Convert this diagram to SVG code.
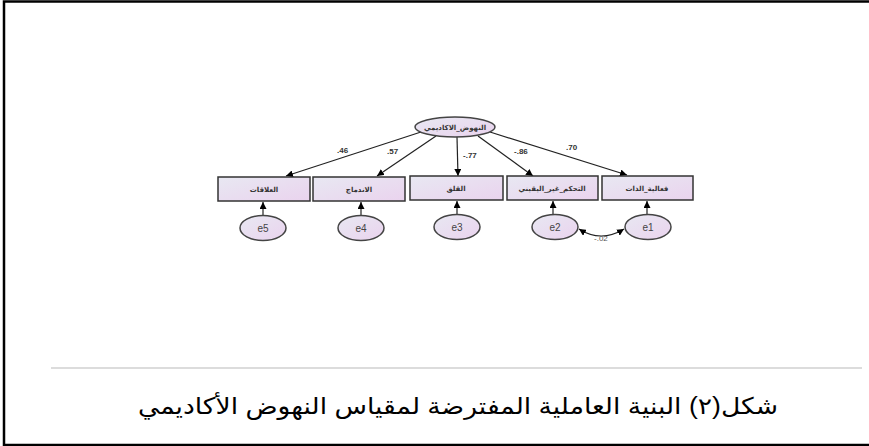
<svg xmlns="http://www.w3.org/2000/svg" width="869" height="446" viewBox="0 0 869 446">
<style>
.frame{stroke:#000;stroke-width:2.5;fill:none}
.sep{stroke:#d0d0d0;stroke-width:1.5}
.box{fill:url(#g);stroke:#333;stroke-width:1.5}
.ell{fill:url(#g);stroke:#444;stroke-width:1.5}
.ar{stroke:#222;stroke-width:1.2;fill:none;marker-end:url(#ah)}
.lbl{font-family:"Liberation Sans","DejaVu Sans",sans-serif;font-size:8px;font-weight:bold;fill:#333}
.ar-t{font-family:"DejaVu Sans","Noto Sans",sans-serif;font-size:7px;font-weight:bold;fill:#333;text-anchor:middle}
.et{font-family:"Liberation Sans",sans-serif;font-size:10px;fill:#444;text-anchor:middle}
.cap{font-family:"Liberation Sans","DejaVu Sans","Noto Sans",sans-serif;font-size:23px;fill:#000;text-anchor:middle}
</style>
<defs>
<linearGradient id="g" x1="0" y1="0" x2="1" y2="1">
<stop offset="0" stop-color="#e8e8f2"/>
<stop offset="1" stop-color="#ead3ee"/>
</linearGradient>
<marker id="ah" viewBox="0 0 10 10" refX="10" refY="5" markerWidth="7" markerHeight="7" orient="auto" markerUnits="userSpaceOnUse">
<path d="M0,0 L10,5 L0,10 z" fill="#000"/>
</marker>
<marker id="ahs" viewBox="0 0 10 10" refX="10" refY="5" markerWidth="7" markerHeight="7" orient="auto-start-reverse" markerUnits="userSpaceOnUse">
<path d="M0,0 L10,5 L0,10 z" fill="#000"/>
</marker>
</defs>
<g id="frame">
<path class="frame" d="M4,446 V1.5 H869"/>
<line class="frame" x1="4" y1="445" x2="869" y2="445"/>
<line class="sep" x1="51" y1="368" x2="862" y2="368"/>
</g>
<g id="connectors">
<line class="ar" x1="421" y1="132" x2="286" y2="176"/>
<line class="ar" x1="436" y1="136" x2="377" y2="176"/>
<line class="ar" x1="457" y1="137" x2="458" y2="176"/>
<line class="ar" x1="478" y1="136" x2="533" y2="176"/>
<line class="ar" x1="490" y1="132" x2="627" y2="175"/>
<line class="ar" x1="263" y1="216" x2="263" y2="202"/>
<line class="ar" x1="361" y1="216" x2="361" y2="202"/>
<line class="ar" x1="457" y1="215" x2="457" y2="201"/>
<line class="ar" x1="553" y1="215" x2="553" y2="201"/>
<line class="ar" x1="647" y1="215" x2="647" y2="201"/>
<path d="M579,229 Q601,243 624,229" stroke="#222" stroke-width="1.2" fill="none" marker-start="url(#ahs)" marker-end="url(#ahs)"/>
<text class="lbl" x="337" y="153">.46</text>
<text class="lbl" x="387" y="154">.57</text>
<text class="lbl" x="463" y="158">-.77</text>
<text class="lbl" x="514" y="154">-.86</text>
<text class="lbl" x="566" y="150">.70</text>
<text class="lbl" x="594" y="241" style="font-weight:normal;fill:#555">-.02</text>
</g>
<g id="latent">
<ellipse class="ell" cx="455" cy="127" rx="40" ry="10"/>
<text class="ar-t" x="455" y="130">النهوض_الاكاديمي</text>
</g>
<g id="box1"><rect class="box" x="218" y="177" width="92" height="24"/><text class="ar-t" x="264" y="192">العلاقات</text></g>
<g id="box2"><rect class="box" x="313" y="177" width="92" height="24"/><text class="ar-t" x="359" y="192">الاندماج</text></g>
<g id="box3"><rect class="box" x="410" y="176" width="93" height="24"/><text class="ar-t" x="456" y="191">القلق</text></g>
<g id="box4"><rect class="box" x="507" y="176" width="91" height="24"/><text class="ar-t" x="552" y="191">التحكم_غير_اليقيني</text></g>
<g id="box5"><rect class="box" x="602" y="176" width="91" height="24"/><text class="ar-t" x="647" y="191">فعالية_الذات</text></g>
<g id="e5"><ellipse class="ell" cx="263" cy="228" rx="23" ry="12.5"/><text class="et" x="263" y="231.5">e5</text></g>
<g id="e4"><ellipse class="ell" cx="361" cy="228" rx="23" ry="12.5"/><text class="et" x="361" y="231.5">e4</text></g>
<g id="e3"><ellipse class="ell" cx="457" cy="227" rx="23" ry="12.5"/><text class="et" x="457" y="230.5">e3</text></g>
<g id="e2"><ellipse class="ell" cx="555" cy="227" rx="23" ry="12.5"/><text class="et" x="555" y="230.5">e2</text></g>
<g id="e1"><ellipse class="ell" cx="648" cy="227" rx="23" ry="12.5"/><text class="et" x="648" y="230.5">e1</text></g>
<g id="caption">
<text class="cap" x="458" y="414" textLength="640" lengthAdjust="spacingAndGlyphs">شكل(٢) البنية العاملية المفترضة لمقياس النهوض الأكاديمي</text>
</g>
</svg>
